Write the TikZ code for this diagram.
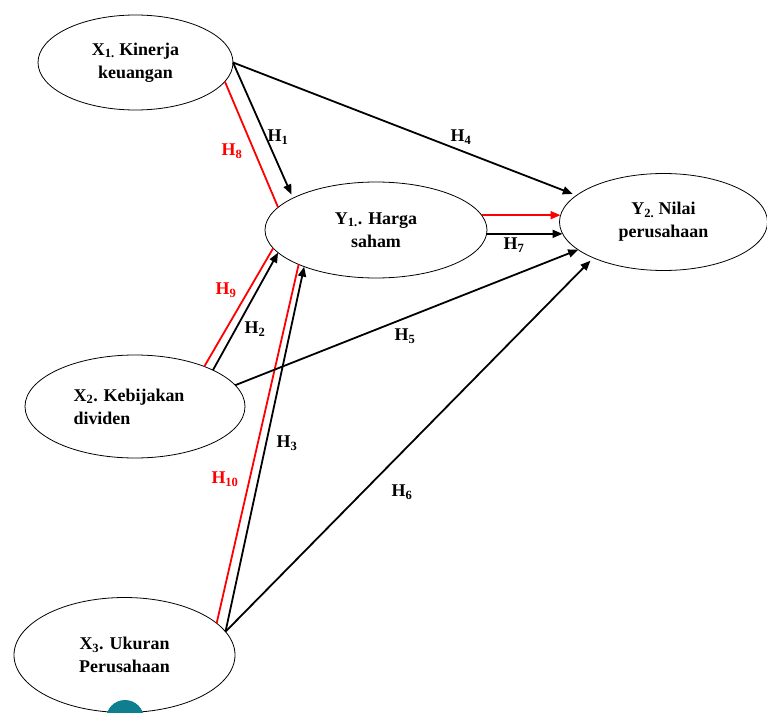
\documentclass[tikz,border=0pt]{standalone}
\usepackage{fontspec}
\setmainfont{Liberation Serif}
\usetikzlibrary{shapes.geometric,arrows.meta}
\definecolor{tealdot}{HTML}{0E7F8F}
\begin{document}
\begin{tikzpicture}[x=1bp,y=-1bp,
  var/.style={draw, ellipse, line width=0.8bp, inner sep=0pt, outer sep=0pt, align=center,
    font=\fontsize{18}{23}\selectfont\bfseries},
  blk/.style={line width=1.8bp, black},
  redl/.style={line width=1.8bp, red},
  arr/.style={-{Triangle[length=10bp,width=8bp]}},
  hlab/.style={font=\fontsize{18}{20}\selectfont\bfseries, inner sep=0pt},
  hred/.style={hlab, text=red},
]
\useasboundingbox (0,0) rectangle (767,713);

% variables
\node[var, minimum width=195bp, minimum height=95bp] (x1) at (135.5,62.5)
  {X\textsubscript{1.} Kinerja\\keuangan};
\node[var, minimum width=222bp, minimum height=96bp] (y1) at (376,230)
  {Y\textsubscript{1.}. Harga\\saham};
\node[var, minimum width=208bp, minimum height=97bp] (y2) at (663.5,222)
  {Y\textsubscript{2.} Nilai\\perusahaan};
\node[var, align=left, minimum width=220bp, minimum height=103bp] (x2) at (135,406.5)
  {X\textsubscript{2}. Kebijakan\kern12bp\mbox{}\\dividen};
\node[var, minimum width=221bp, minimum height=115bp] (x3) at (124.5,655)
  {X\textsubscript{3}. Ukuran\\Perusahaan};

% connectors
\draw[blk,arr,shorten >=4bp] (x1.east) -- (y2.163);
\draw[blk,arr,shorten >=4bp] (x1.east) -- (y1.159.2);
\draw[redl] (x1.-12.4) -- (y1.167);
\draw[redl,arr,shorten >=-1bp] (y1.8.05) -- (y1.8.05 -| y2.west);
\draw[blk,arr,shorten >=-3bp] (y1.-2.07) -- (y1.-2.07 -| y2.west);
\draw[blk,arr] (x2.25.2) -- (y1.193.2);
\draw[redl] (x2.30.8) -- (y1.190.8);
\draw[blk,arr] (x3.13.7) -- (y1.207.9);
\draw[redl] (x3.19.6) -- (y1.204.4);
\draw[blk,arr] (x2.12.6) -- (y2.198.5);
\draw[blk,arr,shorten >=4bp] (x3.13.7) -- (y2.207.3);

% labels
\node[hlab] (h1) at (278,137) {H\textsubscript{1}};
\node[hred] (h8) at (232,151) {H\textsubscript{8}};
\node[hlab] (h4) at (461,137) {H\textsubscript{4}};
\node[hlab] (h7) at (514,245) {H\textsubscript{7}};
\node[hred] (h9) at (226,290) {H\textsubscript{9}};
\node[hlab] (h2) at (255,329) {H\textsubscript{2}};
\node[hlab] (h5) at (405,336) {H\textsubscript{5}};
\node[hlab] (h3) at (287,443) {H\textsubscript{3}};
\node[hred] (h10) at (225,479) {H\textsubscript{10}};
\node[hlab] (h6) at (402,492) {H\textsubscript{6}};

% partial teal badge at the bottom edge
\fill[tealdot] (125,719) circle (19bp);
\fill[white] (125,717) circle (4bp);
\end{tikzpicture}
\end{document}
